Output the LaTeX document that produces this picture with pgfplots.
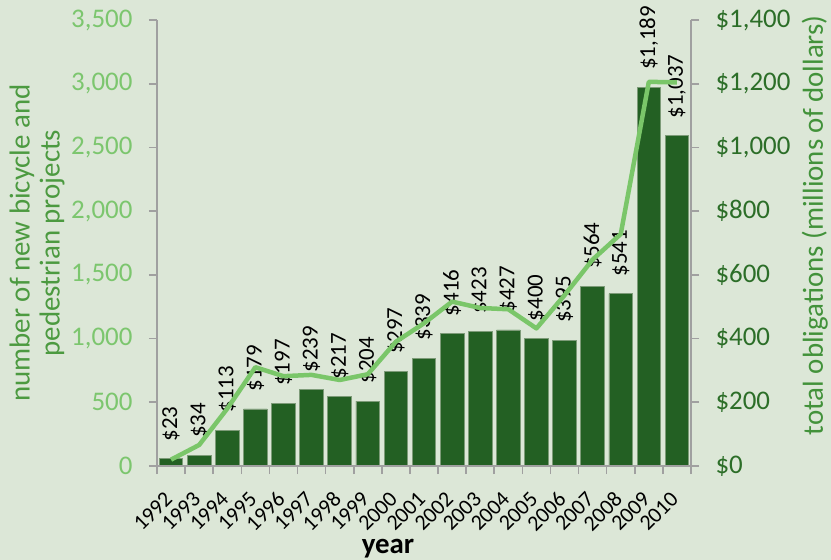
\documentclass[border=0pt]{standalone}
\usepackage{pgfplots}
\usepackage{pgfplotstable}
\pgfplotsset{compat=1.18}
\usepackage{fontspec}
\setmainfont{Carlito}

\definecolor{bgc}{RGB}{220,231,215}
\definecolor{barc}{RGB}{35,96,35}
\definecolor{baredge}{RGB}{125,155,120}
\definecolor{linec}{RGB}{122,198,105}
\definecolor{lefttick}{RGB}{124,198,110}
\definecolor{leftlab}{RGB}{76,154,64}
\definecolor{righttick}{RGB}{44,110,40}
\definecolor{rightlab}{RGB}{66,146,58}
\definecolor{axisgray}{RGB}{160,160,160}

% idx: category position, obl: total obligations (millions of dollars),
% projects: number of new bicycle and pedestrian projects
\pgfplotstableread{
idx year obl  projects
0   1992 23   50
1   1993 34   165
2   1994 113  450
3   1995 179  775
4   1996 197  705
5   1997 239  715
6   1998 217  675
7   1999 204  720
8   2000 297  975
9   2001 339  1120
10  2002 416  1290
11  2003 423  1240
12  2004 427  1230
13  2005 400  1080
14  2006 395  1340
15  2007 564  1620
16  2008 541  1820
17  2009 1189 3015
18  2010 1037 3010
}\datatable

\pgfplotsset{
  common/.style={
    at={(0,0)}, anchor=south west,
    scale only axis, width=534bp, height=446bp,
    xmin=-0.5, xmax=18.5,
    axis line style={axisgray, line width=1.6bp},
    tick style={axisgray, line width=1.6bp},
    major tick length=8bp, tick align=outside,
    /pgf/number format/1000 sep={,},
    /pgf/number format/assume math mode=true,
  },
}

\begin{document}
\begin{tikzpicture}
\useasboundingbox[fill=bgc] (-157bp,-94bp) rectangle (674bp,466bp);

% total obligations: bars on the right-hand axis
\begin{axis}[common,
  ymin=0, ymax=1400, ytick={0,200,...,1400},
  axis y line*=right, axis x line=none,
  yticklabel={\$\pgfmathprintnumber{\tick}},
  yticklabel style={text=righttick, font=\fontsize{27}{30}\selectfont, xshift=13bp},
  ylabel={total obligations (millions of dollars)},
  every axis y label/.style={at={(axis description cs:1.232,0.54)}, rotate=90,
    anchor=center, font=\fontsize{29}{32}\selectfont, text=rightlab},
  ybar, bar width=0.84,
  nodes near coords={\$\pgfmathprintnumber{\pgfplotspointmeta}},
  every node near coord/.append style={font=\fontsize{23}{25}\selectfont,
    text=black, rotate=90, anchor=west, inner xsep=17bp, inner ysep=0pt},
]
\addplot[fill=barc, draw=baredge, line width=0.8bp] table[x=idx, y=obl] {\datatable};
\end{axis}

% number of projects: line on the left-hand axis
\begin{axis}[common,
  ymin=0, ymax=3500, ytick={0,500,...,3500},
  axis y line*=left, axis x line*=bottom,
  xtick={-0.5,0.5,...,18.5},
  xticklabels={1992,1993,1994,1995,1996,1997,1998,1999,2000,2001,2002,2003,2004,2005,2006,2007,2008,2009,2010,{}},
  xticklabel style={xshift=14.05bp, yshift=-19bp, rotate=45, anchor=east, text=black,
    font=\fontsize{22}{24}\selectfont},
  yticklabel style={text=lefttick, font=\fontsize{27}{30}\selectfont, xshift=-13bp},
  xlabel={\bfseries year},
  every axis x label/.style={at={(axis description cs:0.4326,-0.186)},
    anchor=center, font=\fontsize{29}{32}\selectfont},
  ylabel={number of new bicycle and\\pedestrian projects},
  every axis y label/.style={at={(axis description cs:-0.2247,0.5)}, rotate=90,
    anchor=center, align=center, font=\fontsize{29}{30}\selectfont, text=leftlab},
]
\addplot[linec, line width=4.5bp, line join=round, mark=none] table[x=idx, y=projects] {\datatable};
\end{axis}
\end{tikzpicture}
\end{document}
